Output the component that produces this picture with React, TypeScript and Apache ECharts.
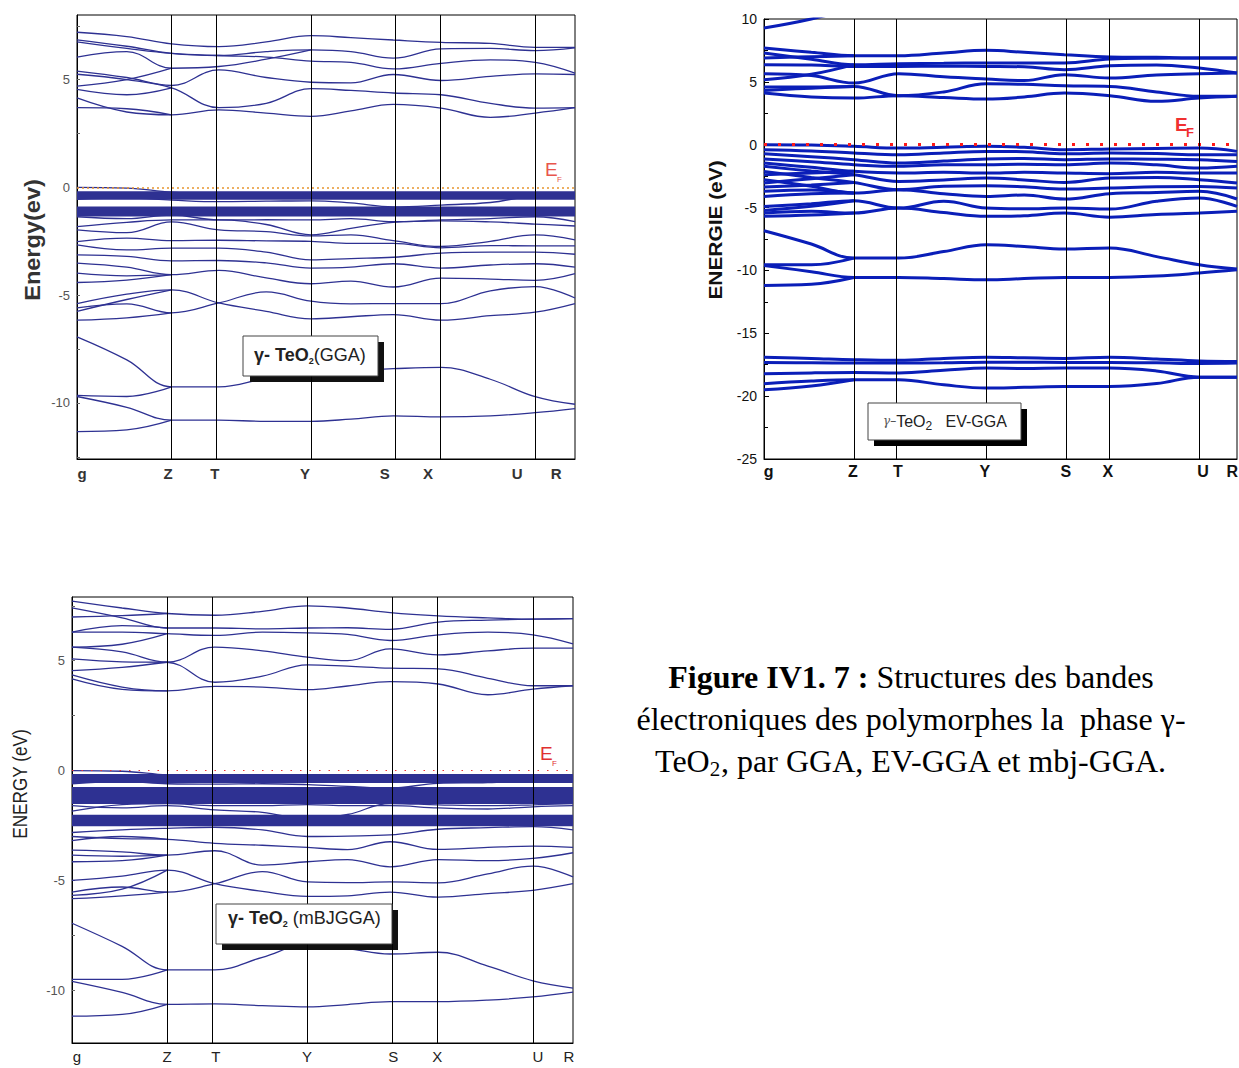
import React, { useEffect, useRef } from "react";
import * as echarts from "echarts";

type Band = (number | null)[];

// k-path sample positions (fraction of path) : g, mid, Z, T, mid, Y, mid, S, X, mid, U, R
const kPath = [0, 0.1, 0.19, 0.285, 0.38, 0.47, 0.55, 0.635, 0.731, 0.83, 0.92, 1];
const kLinePos = [0.19, 0.285, 0.47, 0.635, 0.731, 0.92];
const kNames = ["g", "Z", "T", "Y", "S", "X", "U", "R"];
const ggaLabelPos = [0.01, 0.183, 0.277, 0.458, 0.618, 0.705, 0.884, 0.962];
const evLabelPos = [0.01, 0.188, 0.283, 0.467, 0.638, 0.727, 0.928, 0.99];
const mbjLabelPos = [0.01, 0.19, 0.287, 0.469, 0.641, 0.729, 0.93, 0.992];

const ggaYLabels = [5, 0, -5, -10];
const ggaYTicks = [7.5, 5, 2.5, 0, -2.5, -5, -7.5, -10, -12.5];
const mbjYLabels = [5, 0, -5, -10];
const mbjYTicks = [7.5, 5, 2.5, 0, -2.5, -5, -7.5, -10];

// ---------- Panel 1 : GGA ----------
const ggaConduction: Band[] = [
  [7.2, 7.0, 6.66, 6.53, 6.75, 7.04, 6.95, 6.84, 6.73, 6.68, 6.5, 6.5],
  [6.85, 6.55, 6.22, 6.12, 6.3, 6.38, 6.3, 6.0, 6.43, 6.45, 6.35, 6.47],
  [6.75, 6.45, 6.22, 6.12, 6.05, 5.86, 5.8, 5.5, 5.76, 5.92, 5.8, 5.3],
  [6.05, 6.3, 5.53, 5.61, 5.95, 6.38],
  [5.4, 5.1, 4.73, 5.45, 5.1, 4.88, 4.85, 5.24, 4.96, 5.15, 5.27, 5.24],
  [5.25, 5.0, 4.62, 3.7, 3.9, 4.58, 4.5, 4.38, 4.3, 3.9, 3.68, 3.7],
  [4.7, 5.0, 5.53],
  [4.55, 4.3, 4.62],
  [4.15, 3.5, 3.37, 3.6, 3.45, 3.3, 3.55, 3.85, 3.68, 3.25, 3.45, 3.7],
  [3.7, 3.65, 3.37],
];
const ggaValence: Band[] = [
  [0, -0.03, -0.22, -0.28, -0.3, -0.32, -0.33, -0.35, -0.33, -0.3, -0.3, -0.3],
  [-0.55, -0.5, -0.59, -0.66, -0.64, -0.62, -0.72, -0.9, -0.82, -0.7, -0.42, -0.45],
  [-1.36, -1.45, -1.28, -1.51, -1.5, -1.51, -1.45, -1.59, -1.51, -1.45, -1.36, -1.59],
  [-1.82, -1.62, -1.51, -1.51, -1.72, -2.2, -1.9, -1.62, -1.55, -1.6, -1.7, -1.79],
  [-1.97, -2.1, -1.6, -1.97, -2.05, -2.25, -2.2, -2.47, -2.74, -2.5, -2.2, -2.43],
  [-2.51, -2.35, -2.47, -2.45, -2.48, -2.5, -2.6, -2.6, -2.8, -2.7, -2.71, -2.71],
  [-2.67, -2.9, -2.82, -2.82, -3.0, -3.36, -3.3, -3.24, -3.05, -3.0, -3.0, -3.1],
  [-3.13, -3.2, -3.41, -3.39, -3.5, -3.74, -3.7, -3.54, -3.74, -3.6, -3.54, -3.7],
  [-3.51, -3.7, -4.05, -3.85, -4.2, -4.47, -4.35, -4.62, -4.21, -4.25, -4.31, -4.0],
  [-3.98, -4.1, -4.05],
  [-4.41, -4.3, -4.05],
  [-5.39, -4.95, -4.75, -5.36, -5.75, -6.1, -6.0, -5.9, -6.16, -5.95, -5.79, -5.39],
  [-5.59, -5.4, -5.82, -5.36, -4.85, -5.28, -5.4, -5.39, -5.39, -4.8, -4.6, -5.13],
  [-5.75, -5.2, -4.75],
  [-6.16, -6.05, -5.82],
];
const ggaBlocks: Band[] = [
  [-0.37, -0.37, -0.37, -0.37, -0.37, -0.37, -0.37, -0.37, -0.37, -0.37, -0.37, -0.37],
  [-1.12, -1.12, -1.12, -1.12, -1.12, -1.12, -1.12, -1.12, -1.12, -1.12, -1.12, -1.12],
];
const ggaBlockWidths = [8.5, 10];
const ggaLower: Band[] = [
  [-6.93, -8.0, -9.25, -9.25, -8.85, -8.55, -8.5, -8.41, -8.35, -8.9, -9.71, -10.06],
  [-9.65, -9.7, -9.25],
  [-9.7, -10.2, -10.8, -10.8, -10.85, -10.85, -10.75, -10.6, -10.65, -10.6, -10.45, -10.26],
  [-11.33, -11.25, -10.8],
];

// ---------- Panel 2 : EV-GGA ----------
const evTop: Band[] = [[9.28, 10.0, 10.9]];
const evConduction: Band[] = [
  [7.69, 7.35, 7.08, 7.08, 7.3, 7.51, 7.35, 7.16, 6.98, 6.95, 6.9, 6.9],
  [7.29, 6.8, 6.37, 6.45, 6.48, 6.5, 6.5, 6.5, 6.82, 6.88, 6.9, 6.9],
  [6.9, 7.0, 7.08],
  [6.37, 6.35, 6.23, 6.23, 6.25, 6.23, 6.2, 5.97, 6.29, 6.35, 6.1, 5.7],
  [5.65, 5.5, 4.9, 5.65, 5.4, 5.23, 5.1, 5.57, 5.3, 5.55, 5.65, 5.7],
  [5.17, 5.6, 6.37],
  [4.59, 4.6, 4.64, 3.9, 4.2, 4.85, 4.8, 4.69, 4.64, 4.2, 3.85, 3.85],
  [4.32, 4.5, 4.64],
  [4.11, 3.8, 3.71, 3.9, 3.75, 3.63, 3.8, 4.11, 3.9, 3.45, 3.71, 3.85],
];
const evValence: Band[] = [
  [0, -0.03, -0.13, -0.27, -0.2, -0.13, -0.2, -0.4, -0.34, -0.3, -0.27, -0.53],
  [-0.4, -0.5, -0.66, -0.8, -0.65, -0.53, -0.55, -0.72, -0.66, -0.7, -0.8, -0.8],
  [-0.72, -0.95, -1.19, -1.46, -1.3, -1.14, -1.1, -1.19, -1.14, -1.15, -1.19, -1.33],
  [-1.14, -1.35, -1.59, -1.72, -1.6, -1.59, -1.55, -1.59, -1.46, -1.6, -1.86, -1.72],
  [-1.46, -1.8, -2.12, -2.25, -2.2, -2.25, -2.2, -2.25, -2.3, -2.2, -2.25, -2.25],
  [-1.72, -2.1, -2.39, -2.92, -2.8, -2.65, -2.8, -3.0, -2.65, -2.6, -2.79, -3.05],
  [-2.12, -2.6, -3.0, -3.58, -3.3, -3.26, -3.35, -3.53, -3.45, -3.35, -3.32, -3.45],
  [-2.79, -3.3, -3.85, -3.58, -3.9, -4.11, -4.0, -4.32, -3.9, -3.8, -3.71, -4.32],
  [-4.91, -4.7, -4.46, -5.04, -4.5, -5.04, -5.1, -5.04, -5.12, -4.5, -4.24, -4.91],
  [-5.44, -5.3, -5.44, -5.04, -5.4, -5.7, -5.65, -5.44, -5.76, -5.55, -5.44, -5.3],
  [-2.39, -2.25, -2.12],
  [-3.05, -2.7, -2.39],
  [-3.37, -3.2, -3.0],
  [-3.71, -3.6, -3.85],
  [-4.11, -3.9, -3.85],
  [-5.23, -4.9, -4.46],
  [-5.7, -5.6, -5.44],
];
const evLower: Band[] = [
  [-6.84, -7.9, -9.02, -9.02, -8.5, -7.96, -8.1, -8.3, -8.22, -8.9, -9.55, -9.89],
  [-9.55, -9.55, -9.02],
  [-9.6, -10.1, -10.56, -10.56, -10.65, -10.74, -10.65, -10.56, -10.56, -10.45, -10.21, -9.95],
  [-11.19, -11.1, -10.56],
];
const evSemicore: Band[] = [
  [-16.9, -17.0, -17.1, -17.15, -17.0, -16.9, -16.95, -17.0, -16.9, -17.05, -17.2, -17.24],
  [-17.32, -17.35, -17.37, -17.37, -17.35, -17.3, -17.3, -17.32, -17.32, -17.35, -17.4, -17.37],
  [-18.22, -18.15, -18.12, -18.15, -17.95, -17.77, -17.8, -17.77, -17.77, -18.0, -18.49, -18.49],
  [-19.02, -18.8, -18.7, -18.7, -19.1, -19.36, -19.3, -19.23, -19.23, -19.0, -18.49, -18.49],
  [-19.5, -19.2, -18.7],
];

// ---------- Panel 3 : mBJGGA ----------
const mbjConduction: Band[] = [
  [7.71, 7.4, 7.15, 7.07, 7.25, 7.5, 7.4, 7.19, 7.04, 6.95, 6.89, 6.92],
  [7.4, 6.95, 6.49, 6.49, 6.45, 6.49, 6.5, 6.43, 6.76, 6.85, 6.89, 6.92],
  [6.99, 7.05, 7.15],
  [6.3, 6.6, 6.49],
  [6.3, 6.3, 6.23, 6.15, 6.3, 6.27, 6.2, 5.92, 6.18, 6.3, 6.18, 5.77],
  [5.62, 5.4, 4.93, 5.62, 5.45, 5.16, 5.0, 5.54, 5.27, 5.45, 5.57, 5.57],
  [5.62, 5.75, 6.23],
  [5.08, 4.95, 4.93, 4.02, 4.3, 4.81, 4.75, 4.66, 4.63, 4.2, 3.86, 3.86],
  [4.55, 4.7, 4.93],
  [4.35, 3.8, 3.63, 3.83, 3.8, 3.68, 3.85, 4.05, 3.94, 3.45, 3.71, 3.86],
  [4.17, 3.7, 3.63],
];
const mbjValence: Band[] = [
  [0, -0.03, -0.2, -0.27, -0.3, -0.32, -0.34, -0.36, -0.34, -0.3, -0.3, -0.3],
  [-0.6, -0.5, -0.6, -0.62, -0.6, -0.64, -0.72, -0.8, -0.58, -0.55, -0.45, -0.45],
  [-1.6, -1.7, -1.6, -1.79, -1.9, -2.2, -2.0, -1.5, -1.56, -1.6, -1.56, -1.5],
  [-1.85, -1.55, -1.5, -1.6, -1.6, -1.55, -1.6, -1.6, -1.7, -1.75, -1.65, -1.6],
  [-2.82, -2.7, -2.63, -2.58, -2.7, -3.0, -2.98, -2.93, -2.67, -2.6, -2.55, -2.7],
  [-3.0, -3.1, -3.13, -3.31, -3.4, -3.5, -3.6, -3.24, -3.59, -3.5, -3.44, -3.5],
  [-3.19, -3.0, -3.13],
  [-3.62, -3.7, -3.85, -3.65, -4.3, -4.15, -4.05, -4.38, -4.05, -4.1, -4.0, -3.74],
  [-3.85, -3.9, -3.85],
  [-4.15, -4.1, -3.85],
  [-5.0, -4.8, -4.53, -5.15, -5.5, -5.73, -5.7, -5.53, -5.76, -5.6, -5.45, -5.15],
  [-5.53, -5.3, -5.53, -5.15, -4.6, -5.07, -5.1, -5.07, -5.11, -4.7, -4.35, -4.84],
  [-5.68, -5.4, -4.53],
  [-5.83, -5.7, -5.53],
];
const mbjBlocks: Band[] = [
  [-0.36, -0.36, -0.36, -0.36, -0.36, -0.36, -0.36, -0.36, -0.36, -0.36, -0.36, -0.36],
  [-1.14, -1.14, -1.14, -1.14, -1.14, -1.14, -1.14, -1.14, -1.14, -1.14, -1.14, -1.14],
  [-2.27, -2.27, -2.27, -2.27, -2.27, -2.27, -2.27, -2.27, -2.27, -2.27, -2.27, -2.27],
];
const mbjBlockWidths = [9, 17, 11.5];
const mbjLower: Band[] = [
  [-6.95, -8.0, -9.07, -9.07, -8.5, -7.92, -8.1, -8.35, -8.27, -8.9, -9.57, -9.9],
  [-9.5, -9.5, -9.07],
  [-9.6, -10.1, -10.64, -10.62, -10.7, -10.76, -10.65, -10.52, -10.52, -10.45, -10.3, -10.08],
  [-11.18, -11.1, -10.64],
];

const NARROW = "'Liberation Sans Narrow', 'Liberation Sans', Arial, sans-serif";
const SANS = "'Liberation Sans', Arial, sans-serif";
const SERIF = "'Liberation Serif', 'Times New Roman', serif";
const NAVY = "#2e3192";
const BLUE = "#0a1eb8";

function toPts(b: Band) {
  const out: number[][] = [];
  kPath.forEach((x, i) => {
    const v = b[i];
    if (v !== null && v !== undefined) out.push([x, v]);
  });
  return out;
}

function bandSeries(bands: Band[], gi: number, color: string, width: number) {
  return bands.map((b) => ({
    type: "line",
    xAxisIndex: gi,
    yAxisIndex: gi,
    data: toPts(b),
    symbol: "none",
    showSymbol: false,
    smooth: 0.4,
    silent: true,
    z: 2,
    lineStyle: { color, width },
  }));
}

function blockSeries(bands: Band[], widths: number[], gi: number, color: string) {
  return bands.map((b, i) => ({
    type: "line",
    xAxisIndex: gi,
    yAxisIndex: gi,
    data: toPts(b),
    symbol: "none",
    showSymbol: false,
    silent: true,
    z: 2,
    lineStyle: { color, width: widths[i] },
  }));
}

function helperSeries(gi: number, efStyle: any) {
  return [
    {
      type: "line",
      xAxisIndex: gi,
      yAxisIndex: gi,
      data: [],
      silent: true,
      z: 9,
      markLine: {
        silent: true,
        symbol: ["none", "none"],
        label: { show: false },
        lineStyle: efStyle,
        data: [{ yAxis: 0 }],
      },
    },
    {
      type: "line",
      xAxisIndex: gi,
      yAxisIndex: gi,
      data: [],
      silent: true,
      z: 10,
      markLine: {
        silent: true,
        symbol: ["none", "none"],
        label: { show: false },
        lineStyle: { color: "#000", width: 1, type: "solid" },
        data: kLinePos.map((x) => ({ xAxis: x })),
      },
    },
  ];
}

function nearest(arr: number[], v: number) {
  let bi = 0;
  arr.forEach((a, i) => {
    if (Math.abs(a - v) < Math.abs(arr[bi] - v)) bi = i;
  });
  return bi;
}

function xAxisCfg(gi: number, labelPos: number[], label: any) {
  return {
    type: "value",
    gridIndex: gi,
    min: 0,
    max: 1,
    axisLine: { show: true, onZero: false, lineStyle: { color: "#000", width: 1 } },
    axisTick: { show: false },
    splitLine: { show: false },
    axisLabel: {
      customValues: labelPos,
      formatter: (v: number) => kNames[nearest(labelPos, v)],
      ...label,
    },
  };
}

function buildOption() {
  const grids = [
    { left: 77, top: 15, width: 498, height: 444 },
    { left: 764, top: 19, width: 473, height: 440 },
    { left: 72, top: 597, width: 501, height: 446 },
  ].map((g) => ({ ...g, show: true, borderColor: "#000", borderWidth: 1, backgroundColor: "transparent", outerBoundsMode: "none" }));

  const xAxes = [
    xAxisCfg(0, ggaLabelPos, { margin: 7, fontSize: 15, fontFamily: NARROW, color: "#333", fontWeight: "bold" }),
    xAxisCfg(1, evLabelPos, { margin: 4, fontSize: 16, fontFamily: SANS, color: "#111", fontWeight: "bold" }),
    xAxisCfg(2, mbjLabelPos, { margin: 6, fontSize: 15, fontFamily: NARROW, color: "#222" }),
  ];

  const yAxes = [
    {
      type: "value",
      gridIndex: 0,
      min: -12.6,
      max: 8,
      axisLine: { show: true, onZero: false, lineStyle: { color: "#000" } },
      splitLine: { show: false },
      axisTick: { show: true, inside: true, length: 3, customValues: ggaYTicks, lineStyle: { color: "#666" } },
      axisLabel: { customValues: ggaYLabels, margin: 7, fontSize: 13, fontFamily: NARROW, color: "#555" },
    },
    {
      type: "value",
      gridIndex: 1,
      min: -25,
      max: 10,
      interval: 5,
      axisLine: { show: true, onZero: false, lineStyle: { color: "#000" } },
      splitLine: { show: false },
      axisTick: { show: true, inside: true, length: 5, lineStyle: { color: "#000" } },
      minorTick: { show: true, splitNumber: 2, length: 4, lineStyle: { color: "#000" } },
      axisLabel: { margin: 7, fontSize: 14, fontFamily: NARROW, color: "#111" },
    },
    {
      type: "value",
      gridIndex: 2,
      min: -12.4,
      max: 7.9,
      axisLine: { show: true, onZero: false, lineStyle: { color: "#000" } },
      splitLine: { show: false },
      axisTick: { show: true, inside: true, length: 3, customValues: mbjYTicks, lineStyle: { color: "#666" } },
      axisLabel: { customValues: mbjYLabels, margin: 7, fontSize: 13, fontFamily: NARROW, color: "#555" },
    },
  ];

  const series: any[] = [
    ...bandSeries(ggaConduction, 0, NAVY, 1.3),
    ...bandSeries(ggaValence, 0, NAVY, 1.3),
    ...blockSeries(ggaBlocks, ggaBlockWidths, 0, NAVY),
    ...bandSeries(ggaLower, 0, NAVY, 1.3),
    ...helperSeries(0, { color: "#e8952e", width: 1.5, type: [2, 3] }),

    ...bandSeries(evTop, 1, BLUE, 3),
    ...bandSeries(evConduction, 1, BLUE, 3),
    ...bandSeries(evValence, 1, BLUE, 3),
    ...bandSeries(evLower, 1, BLUE, 3),
    ...bandSeries(evSemicore, 1, BLUE, 3),
    ...helperSeries(1, { color: "#ff1a1a", width: 3, type: [3, 11] }),

    ...bandSeries(mbjConduction, 2, NAVY, 1.3),
    ...bandSeries(mbjValence, 2, NAVY, 1.3),
    ...blockSeries(mbjBlocks, mbjBlockWidths, 2, NAVY),
    ...bandSeries(mbjLower, 2, NAVY, 1.3),
    ...helperSeries(2, { color: "#e33", width: 1, type: [1.5, 8] }),
  ];

  const legendRich = (size: number) => ({
    a: { fontFamily: NARROW, fontSize: size, fontWeight: "bold", fill: "#222" },
    s: { fontFamily: NARROW, fontSize: 9, fontWeight: "bold", fill: "#222", verticalAlign: "bottom", padding: [12, 0, 0, 0] },
    b: { fontFamily: NARROW, fontSize: size, fill: "#222" },
  });

  const R90 = Math.PI / 2;
  const graphic = [
    // Y axis titles
    {
      type: "text", z: 7, x: 32, y: 240, rotation: R90, scaleX: 1.07,
      style: { text: "Energy(ev)", fontSize: 22, fontWeight: "bold", fontFamily: SANS, fill: "#333", align: "center", verticalAlign: "middle" },
    },
    {
      type: "text", z: 7, x: 716, y: 230, rotation: R90, scaleX: 1.16,
      style: { text: "ENERGIE (eV)", fontSize: 18, fontWeight: "bold", fontFamily: SANS, fill: "#111", align: "center", verticalAlign: "middle" },
    },
    {
      type: "text", z: 7, x: 20, y: 784, rotation: R90, scaleX: 0.86,
      style: { text: "ENERGY (eV)", fontSize: 20, fontFamily: SANS, fill: "#222", align: "center", verticalAlign: "middle" },
    },

    // Panel 1 legend
    { type: "rect", z: 5, shape: { x: 250, y: 342, width: 134, height: 40 }, style: { fill: "#111" } },
    { type: "rect", z: 6, shape: { x: 243, y: 336, width: 135, height: 40 }, style: { fill: "#fff", stroke: "#444", lineWidth: 1 } },
    { type: "text", z: 7, x: 254, y: 355, style: { text: "{a|γ- TeO}{s|2}{b|(GGA)}", rich: legendRich(18), verticalAlign: "middle" } },
    // Panel 1 E_F
    { type: "text", z: 7, x: 545, y: 160, style: { text: "E", fontSize: 19, fontFamily: SANS, fill: "#e8554c", verticalAlign: "top" } },
    { type: "text", z: 7, x: 557, y: 175, style: { text: "F", fontSize: 8, fontFamily: SANS, fill: "#e8554c", verticalAlign: "top" } },

    // Panel 2 legend
    { type: "rect", z: 5, shape: { x: 874, y: 409, width: 153, height: 37 }, style: { fill: "#000" } },
    { type: "rect", z: 6, shape: { x: 868, y: 403, width: 153, height: 37 }, style: { fill: "#fff", stroke: "#444", lineWidth: 1 } },
    {
      type: "text",
      z: 7,
      x: 883,
      y: 421,
      style: {
        text: "{g|γ–}{a|TeO}{s|2}{b|   EV-GGA}",
        verticalAlign: "middle",
        rich: {
          g: { fontFamily: "'DejaVu Serif', serif", fontStyle: "italic", fontSize: 12, fill: "#555" },
          a: { fontFamily: NARROW, fontSize: 16, fill: "#222" },
          s: { fontFamily: NARROW, fontSize: 12, fill: "#222", verticalAlign: "bottom", padding: [10, 0, 0, 0] },
          b: { fontFamily: NARROW, fontSize: 16, fill: "#222" },
        },
      },
    },
    // Panel 2 E_F
    { type: "text", z: 7, x: 1175, y: 115, style: { text: "E", fontSize: 19, fontWeight: "bold", fontFamily: SANS, fill: "#f03030", verticalAlign: "top" } },
    { type: "text", z: 7, x: 1186, y: 126, style: { text: "F", fontSize: 13, fontWeight: "bold", fontFamily: SANS, fill: "#f03030", verticalAlign: "top" } },

    // Panel 3 legend
    { type: "rect", z: 5, shape: { x: 222, y: 910, width: 176, height: 40 }, style: { fill: "#111" } },
    { type: "rect", z: 6, shape: { x: 216, y: 904, width: 176, height: 40 }, style: { fill: "#fff", stroke: "#444", lineWidth: 1 } },
    { type: "text", z: 7, x: 228, y: 918, style: { text: "{a|γ- TeO}{s|2}{b| (mBJGGA)}", rich: legendRich(18), verticalAlign: "middle" } },
    // Panel 3 E_F
    { type: "text", z: 7, x: 540, y: 744, style: { text: "E", fontSize: 19, fontFamily: SANS, fill: "#e03030", verticalAlign: "top" } },
    { type: "text", z: 7, x: 552, y: 759, style: { text: "F", fontSize: 8, fontFamily: SANS, fill: "#e03030", verticalAlign: "top" } },

    // Caption
    {
      type: "text",
      z: 7,
      x: 911,
      y: 677,
      style: {
        text: "{b|Figure IV1. 7 :}{n| Structures des bandes}",
        align: "center",
        verticalAlign: "middle",
        rich: {
          b: { fontFamily: SERIF, fontSize: 32, fontWeight: "bold", fill: "#000" },
          n: { fontFamily: SERIF, fontSize: 32, fill: "#000" },
        },
      },
    },
    {
      type: "text",
      z: 7,
      x: 911,
      y: 719,
      style: { text: "électroniques des polymorphes la  phase γ-", fontFamily: SERIF, fontSize: 32, fill: "#000", align: "center", verticalAlign: "middle" },
    },
    {
      type: "text",
      z: 7,
      x: 911,
      y: 761,
      style: {
        text: "{n|TeO}{s|2}{n|, par GGA, EV-GGA et mbj-GGA.}",
        align: "center",
        verticalAlign: "middle",
        rich: {
          n: { fontFamily: SERIF, fontSize: 32, fill: "#000" },
          s: { fontFamily: SERIF, fontSize: 21, fill: "#000", verticalAlign: "bottom", padding: [15, 0, 0, 0] },
        },
      },
    },
  ];

  return {
    animation: false,
    backgroundColor: "#fff",
    grid: grids,
    xAxis: xAxes,
    yAxis: yAxes,
    series,
    graphic: { elements: graphic },
  };
}

export default function App() {
  const ref = useRef<HTMLDivElement>(null);
  useEffect(() => {
    const chart = echarts.init(ref.current as HTMLDivElement, null, { renderer: "svg" });
    chart.setOption(buildOption() as any);
    return () => chart.dispose();
  }, []);
  return (
    <div
      ref={ref}
      style={{ position: "absolute", left: 0, top: 0, width: 1239, height: 1068, background: "#fff" }}
    />
  );
}
